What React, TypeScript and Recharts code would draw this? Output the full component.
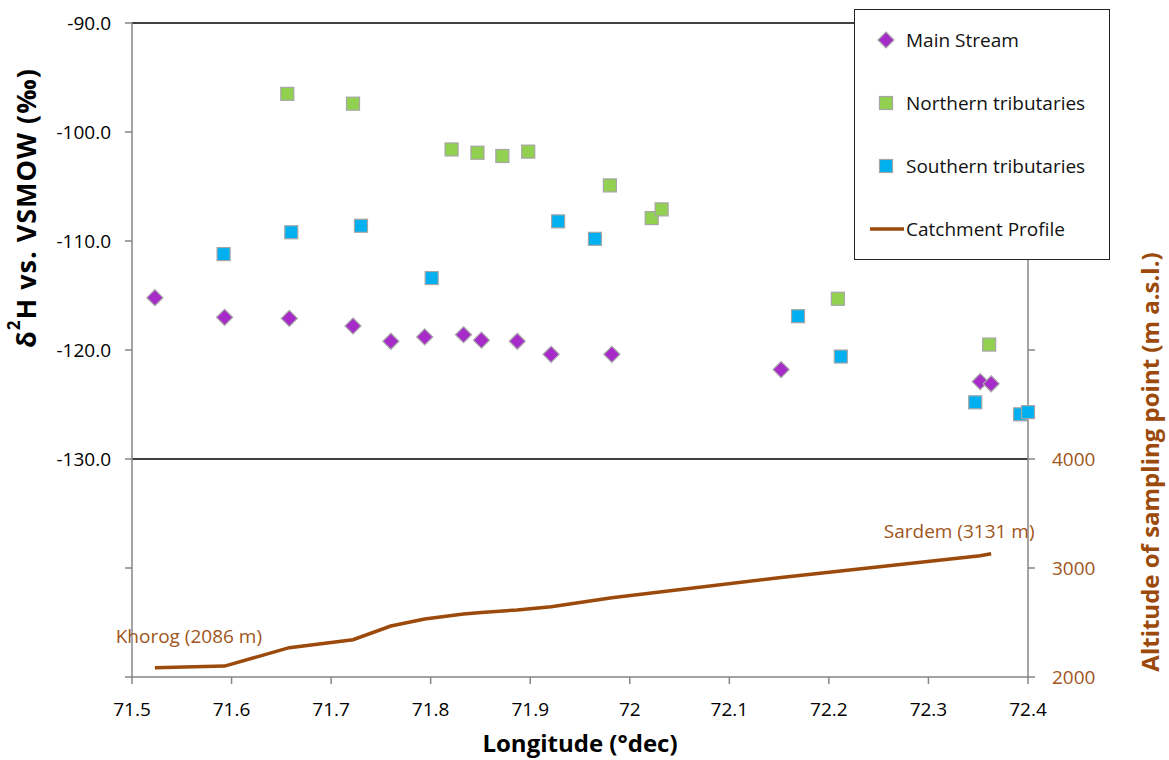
import React from 'react'
import {
  ComposedChart,
  Scatter,
  Line,
  XAxis,
  YAxis,
  ReferenceLine,
  Legend,
} from 'recharts'

// δ2H of river water samples against longitude, with the altitude profile on a second axis
const mainStream = [
  { lon: 71.523, d2h: -115.2 },
  { lon: 71.593, d2h: -117.0 },
  { lon: 71.658, d2h: -117.1 },
  { lon: 71.722, d2h: -117.8 },
  { lon: 71.760, d2h: -119.2 },
  { lon: 71.794, d2h: -118.8 },
  { lon: 71.833, d2h: -118.6 },
  { lon: 71.851, d2h: -119.1 },
  { lon: 71.887, d2h: -119.2 },
  { lon: 71.921, d2h: -120.4 },
  { lon: 71.982, d2h: -120.4 },
  { lon: 72.152, d2h: -121.8 },
  { lon: 72.352, d2h: -122.9 },
  { lon: 72.363, d2h: -123.1 },
]

const northernTributaries = [
  { lon: 71.656, d2h: -96.5 },
  { lon: 71.722, d2h: -97.4 },
  { lon: 71.821, d2h: -101.6 },
  { lon: 71.847, d2h: -101.9 },
  { lon: 71.872, d2h: -102.2 },
  { lon: 71.898, d2h: -101.8 },
  { lon: 71.980, d2h: -104.9 },
  { lon: 72.022, d2h: -107.9 },
  { lon: 72.032, d2h: -107.1 },
  { lon: 72.209, d2h: -115.3 },
  { lon: 72.361, d2h: -119.5 },
]

const southernTributaries = [
  { lon: 71.592, d2h: -111.2 },
  { lon: 71.660, d2h: -109.2 },
  { lon: 71.730, d2h: -108.6 },
  { lon: 71.801, d2h: -113.4 },
  { lon: 71.928, d2h: -108.2 },
  { lon: 71.965, d2h: -109.8 },
  { lon: 72.169, d2h: -116.9 },
  { lon: 72.212, d2h: -120.6 },
  { lon: 72.347, d2h: -124.8 },
  { lon: 72.392, d2h: -125.9 },
  { lon: 72.400, d2h: -125.7 },
]

const catchmentProfile = [
  { lon: 71.523, alt: 2086, site: 'Khorog' },
  { lon: 71.593, alt: 2100 },
  { lon: 71.658, alt: 2269 },
  { lon: 71.722, alt: 2342 },
  { lon: 71.760, alt: 2468 },
  { lon: 71.794, alt: 2532 },
  { lon: 71.833, alt: 2578 },
  { lon: 71.851, alt: 2592 },
  { lon: 71.887, alt: 2615 },
  { lon: 71.921, alt: 2645 },
  { lon: 71.982, alt: 2727 },
  { lon: 72.152, alt: 2913 },
  { lon: 72.352, alt: 3112 },
  { lon: 72.363, alt: 3131, site: 'Sardem' },
]

const lonTicks = [71.5, 71.6, 71.7, 71.8, 71.9, 72.0, 72.1, 72.2, 72.3, 72.4]
const d2hTicks = [-150, -140, -130, -120, -110, -100, -90]
const altTicks = [2000, 3000, 4000, 5000, 6000, 7000, 8000]

const FONT = '"Open Sans", Lato, sans-serif'
const BROWN = '#9c4a0c'
const BROWN_TEXT = '#a0561c'
const AXIS_GREY = '#868686'
const PURPLE = '#a62bc9'
const GREEN = '#92d050'
const BLUE = '#00b0f0'
const MARKER_EDGE = '#a6a6a6'

const Square = ({ cx, cy, fill }: any) => (
  <rect x={cx - 6.5} y={cy - 6.5} width={13} height={13} fill={fill} stroke={MARKER_EDGE} strokeWidth={1.2} />
)

const Diamond = ({ cx, cy, fill }: any) => (
  <polygon
    points={`${cx},${cy - 8} ${cx + 8},${cy} ${cx},${cy + 8} ${cx - 8},${cy}`}
    fill={fill}
    stroke={MARKER_EDGE}
    strokeWidth={1.2}
  />
)

const legendItems = [
  { name: 'Main Stream', kind: 'diamond', color: PURPLE },
  { name: 'Northern tributaries', kind: 'square', color: GREEN },
  { name: 'Southern tributaries', kind: 'square', color: BLUE },
  { name: 'Catchment Profile', kind: 'line', color: BROWN },
]

const LegendBox = () => (
  <div
    style={{
      position: 'relative',
      width: 256,
      height: 251,
      background: '#fff',
      border: '1.5px solid #222',
      boxSizing: 'border-box',
      fontFamily: FONT,
      fontSize: 19,
      color: '#111',
    }}
  >
    {legendItems.map((item, i) => (
      <div
        key={item.name}
        style={{ position: 'absolute', left: 13, top: 17 + i * 63, height: 26, display: 'flex', alignItems: 'center' }}
      >
        <svg width={38} height={24}>
          {item.kind === 'diamond' && <Diamond cx={18} cy={12} fill={item.color} />}
          {item.kind === 'square' && <Square cx={18} cy={12} fill={item.color} />}
          {item.kind === 'line' && <line x1={2} y1={12} x2={36} y2={12} stroke={item.color} strokeWidth={3.5} />}
        </svg>
        <span>{item.name}</span>
      </div>
    ))}
  </div>
)

// site names at the ends of the altitude profile
const ProfileLabel = ({ x, y, index }: any) => {
  const p = catchmentProfile[index]
  if (!p || !p.site) return null
  const first = index === 0
  return (
    <text
      x={first ? x + 34 : x - 32}
      y={first ? y - 32 : y - 23}
      textAnchor="middle"
      dominantBaseline="central"
      fill={BROWN_TEXT}
      fontFamily={FONT}
      fontSize={19}
    >
      {`${p.site} (${p.alt} m)`}
    </text>
  )
}

const LeftTitle = () => (
  <text
    x={25}
    y={208}
    transform="rotate(-90, 25, 208)"
    textAnchor="middle"
    dominantBaseline="central"
    fontFamily={FONT}
    fontWeight={700}
    fontSize={27}
    letterSpacing={1}
    fill="#000"
  >
    δ<tspan baselineShift="super" fontSize={17}>2</tspan>H vs. VSMOW (‰)
  </text>
)

const RightTitle = () => (
  <text
    x={1149}
    y={462}
    transform="rotate(-90, 1149, 462)"
    textAnchor="middle"
    dominantBaseline="central"
    fontFamily={FONT}
    fontWeight={700}
    fontSize={24}
    fill={BROWN}
  >
    Altitude of sampling point (m a.s.l.)
  </text>
)

export default function App() {
  return (
    <div style={{ position: 'absolute', left: 0, top: 0, width: 1169, height: 760, background: '#fff' }}>
      <ComposedChart width={1169} height={760} margin={{ top: 23, right: 0, bottom: 0, left: 0 }}>
        <XAxis
          dataKey="lon"
          type="number"
          domain={[71.5, 72.4]}
          ticks={lonTicks}
          tickFormatter={(v: number) => String(parseFloat(v.toFixed(1)))}
          height={83}
          stroke={AXIS_GREY}
          strokeWidth={1.5}
          tickSize={7}
          tickMargin={19}
          tick={{ fill: '#000', fontFamily: FONT, fontSize: 19 }}
          label={{
            value: 'Longitude (°dec)',
            position: 'insideBottom',
            offset: 8,
            style: { fontFamily: FONT, fontWeight: 700, fontSize: 24, fill: '#000' },
          }}
        />
        <YAxis
          yAxisId="d2h"
          type="number"
          domain={[-150, -90]}
          ticks={d2hTicks}
          tickFormatter={(v: number) => (v >= -130 ? v.toFixed(1) : '')}
          width={132}
          stroke={AXIS_GREY}
          strokeWidth={1.5}
          tickSize={7}
          tickMargin={14}
          tick={{ fill: '#000', fontFamily: FONT, fontSize: 19 }}
          label={<LeftTitle />}
        />
        <YAxis
          yAxisId="alt"
          orientation="right"
          type="number"
          domain={[2000, 8000]}
          ticks={altTicks}
          tickFormatter={(v: number) => (v <= 4000 ? String(v) : '')}
          width={141}
          stroke={AXIS_GREY}
          strokeWidth={1.5}
          tickSize={7}
          tickMargin={17}
          tick={{ fill: BROWN_TEXT, fontFamily: FONT, fontSize: 19 }}
          label={<RightTitle />}
        />
        <ReferenceLine yAxisId="d2h" y={-90} stroke="#000" strokeWidth={1.5} />
        <ReferenceLine yAxisId="d2h" y={-130} stroke="#000" strokeWidth={1.5} />
        <Line
          yAxisId="alt"
          data={catchmentProfile}
          dataKey="alt"
          name="Catchment Profile"
          stroke={BROWN}
          strokeWidth={3.5}
          dot={false}
          label={<ProfileLabel />}
          isAnimationActive={false}
        />
        <Scatter
          yAxisId="d2h"
          data={mainStream}
          dataKey="d2h"
          name="Main Stream"
          fill={PURPLE}
          shape={(p: any) => <Diamond cx={p.cx} cy={p.cy} fill={PURPLE} />}
          isAnimationActive={false}
        />
        <Scatter
          yAxisId="d2h"
          data={northernTributaries}
          dataKey="d2h"
          name="Northern tributaries"
          fill={GREEN}
          shape={(p: any) => <Square cx={p.cx} cy={p.cy} fill={GREEN} />}
          isAnimationActive={false}
        />
        <Scatter
          yAxisId="d2h"
          data={southernTributaries}
          dataKey="d2h"
          name="Southern tributaries"
          fill={BLUE}
          shape={(p: any) => <Square cx={p.cx} cy={p.cy} fill={BLUE} />}
          isAnimationActive={false}
        />
        <Legend
          layout="vertical"
          align="center"
          verticalAlign="middle"
          content={() => <LegendBox />}
          wrapperStyle={{ left: 854, top: 9, width: 256, height: 251 }}
        />
      </ComposedChart>
    </div>
  )
}
